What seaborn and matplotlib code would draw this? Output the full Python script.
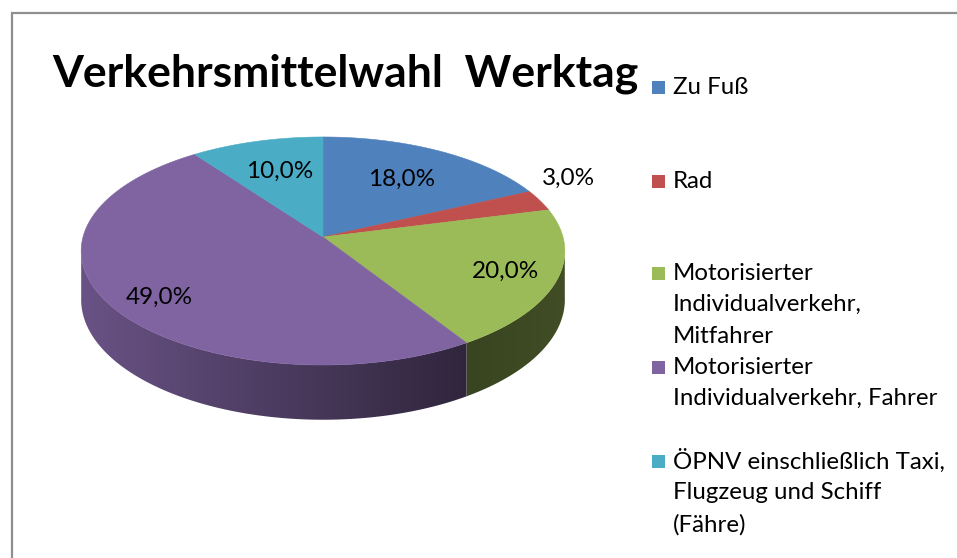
import numpy as np
import matplotlib
matplotlib.use("Agg")
import matplotlib.pyplot as plt
from matplotlib.patches import Polygon, Rectangle
from matplotlib.lines import Line2D
import seaborn as sns

# ---- data -------------------------------------------------------------
categories = [
    "Zu Fuß",
    "Rad",
    "Motorisierter Individualverkehr, Mitfahrer",
    "Motorisierter Individualverkehr, Fahrer",
    "ÖPNV einschließlich Taxi, Flugzeug und Schiff (Fähre)",
]
shares = [18.0, 3.0, 20.0, 49.0, 10.0]
legend_lines = [
    ["Zu Fuß"],
    ["Rad"],
    ["Motorisierter", "Individualverkehr,", "Mitfahrer"],
    ["Motorisierter", "Individualverkehr, Fahrer"],
    ["ÖPNV einschließlich Taxi,", "Flugzeug und Schiff", "(Fähre)"],
]
title = "Verkehrsmittelwahl  Werktag"

# ---- style ------------------------------------------------------------
sns.set_theme(style="white")
palette = sns.color_palette(["#4F81BD", "#C0504D", "#9BBB59", "#8064A2", "#4BACC6"])
plt.rcParams["font.family"] = ["Lato", "DejaVu Sans"]

W, H, DPI = 957, 558, 100
fig = plt.figure(figsize=(W / DPI, H / DPI), dpi=DPI)
ax = fig.add_axes([0, 0, 1, 1])

# ---- 3D pie geometry (perspective-tilted disc) ------------------------
CX, CY = 323.0, 237.0      # projected pie centre
RX, RY = 240.0, 112.3      # horizontal / vertical radius
K = 0.1228                 # perspective strength
DEPTH = 48.0               # thickness of the disc


def project(phi_deg, r=1.0, z=0.0):
    """phi measured clockwise from 12 o'clock; z=0 top face, z=1 bottom."""
    p = np.deg2rad(phi_deg)
    s, c = np.sin(p) * r, np.cos(p) * r
    w = 1.0 + K * c
    return CX + RX * s / w, CY - RY * c / w + z * DEPTH / w


total = sum(shares)
bounds = np.concatenate([[0.0], np.cumsum(shares)]) * 360.0 / total

# visible part of the outer wall: between the left- and rightmost rim points
edge = np.rad2deg(np.arccos(-K))
wall_lo, wall_hi = edge - 1.0, 360.0 - edge + 1.0


def side_shade(x):
    return np.interp(x, [83, 470, 563], [0.82, 0.37, 0.41])


# gradient strip used to paint the wall, clipped to each slice's wall face
gx0, gx1 = CX - RX - 15, CX + RX + 15
gy0, gy1 = CY - 20, CY + 200
xs = np.linspace(gx0, gx1, 800)
for i in range(len(shares)):
    a0, a1 = max(bounds[i], wall_lo), min(bounds[i + 1], wall_hi)
    if a1 <= a0:
        continue
    arc = np.linspace(a0, a1, 200)
    top = [project(a) for a in arc]
    bot = [project(a, z=1) for a in arc[::-1]]
    face = Polygon(top + bot, closed=True, facecolor="none", edgecolor="none")
    ax.add_patch(face)
    col = np.array(palette[i])
    grad = np.clip(col[None, :] * side_shade(xs)[:, None], 0, 1)[None, :, :]
    grad = np.repeat(grad, 4, axis=0)
    im = ax.imshow(grad, extent=(gx0, gx1, gy1, gy0), origin="upper",
                   aspect="auto", interpolation="bilinear", zorder=1)
    im.set_clip_path(face)

# top face wedges
for i, v in enumerate(shares):
    arc = np.linspace(bounds[i], bounds[i + 1], 120)
    pts = [(CX, CY)] + [project(a) for a in arc]
    ax.add_patch(Polygon(pts, closed=True, facecolor=palette[i],
                         edgecolor=palette[i], lw=0.4, zorder=2))

# value labels at mid-angle of each slice
label_r = [0.65, 1.14, 0.79, 0.78, 0.63]
label_dy = [0, -17, 0, 8, -3]
for i, v in enumerate(shares):
    mid = (bounds[i] + bounds[i + 1]) / 2
    x, y = project(mid, r=label_r[i])
    ax.text(x, y + label_dy[i], f"{v:.1f}%".replace(".", ","), fontsize=17.5,
            ha="center", va="center", color="black", zorder=5)

# ---- title ------------------------------------------------------------
ax.text(52, 87, title, fontsize=32, fontweight="bold", ha="left",
        va="baseline", color="black")

# ---- legend -----------------------------------------------------------
first_line_y = [87, 181, 273, 367, 461]
pitch = 31.8
for i, lines in enumerate(legend_lines):
    y0 = first_line_y[i]
    ax.add_patch(Rectangle((651.5, y0 - 6.5), 13, 13, facecolor=palette[i],
                           edgecolor="none", zorder=3))
    for j, line in enumerate(lines):
        ax.text(673, y0 + j * pitch, line, fontsize=17.3, ha="left",
                va="center", color="black")

# ---- chart frame ------------------------------------------------------
ax.add_line(Line2D([11.5, 11.5, W + 5], [H + 5, 12.5, 12.5],
                   color="#8f8f8f", lw=1.6, solid_joinstyle="miter"))

ax.set_xlim(0, W)
ax.set_ylim(H, 0)
ax.axis("off")

fig.savefig("out.png", dpi=DPI)
